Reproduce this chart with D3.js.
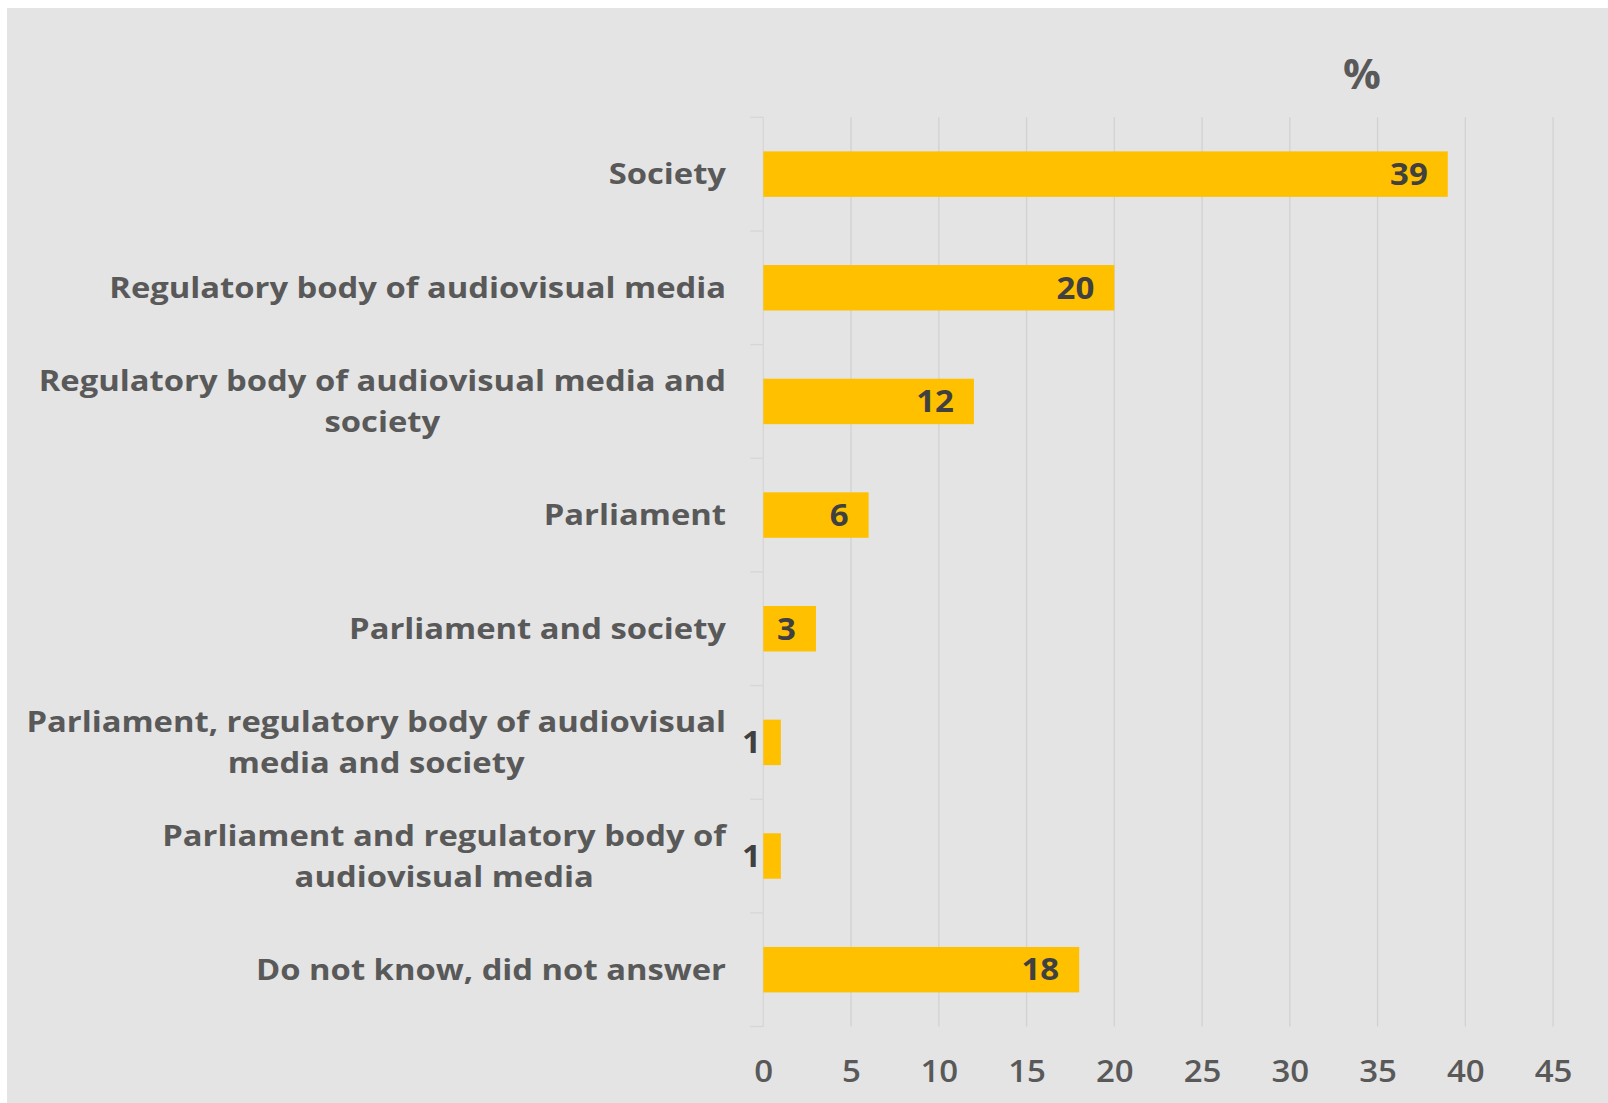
<!DOCTYPE html>
<html>
<head>
<meta charset="utf-8">
<script src="https://cdn.jsdelivr.net/npm/d3@7"></script>
<style>
  html, body { margin: 0; padding: 0; background: #ffffff; }
  svg { display: block; }
</style>
</head>
<body>
<script>
const categories = [
  ["Society"],
  ["Regulatory body of audiovisual media"],
  ["Regulatory body of audiovisual media and", "society"],
  ["Parliament"],
  ["Parliament and society"],
  ["Parliament, regulatory body of audiovisual", "media and society"],
  ["Parliament and regulatory body of", "audiovisual media"],
  ["Do not know, did not answer"]
];
const values = [39, 20, 12, 6, 3, 1, 1, 18];
const tickValues = [0, 5, 10, 15, 20, 25, 30, 35, 40, 45];
const unitLabel = "%";

const W = 1608, H = 1103;
const svg = d3.select("body").append("svg").attr("width", W).attr("height", H);

svg.append("rect").attr("x", 7).attr("y", 8).attr("width", W - 7).attr("height", H - 8).attr("fill", "#e4e4e4");

const x = d3.scaleLinear().domain([0, 45]).range([763.3, 1553.1]);
const y = d3.scaleBand().domain(d3.range(categories.length)).range([117.3, 1026.5]).paddingInner(0.6).paddingOuter(0.3);
const band = d3.scaleBand().domain(d3.range(categories.length)).range([117.3, 1026.5]);

const FONT = "'Open Sans', 'DejaVu Sans', sans-serif";
const SX_CAT = 1.17, SX_NUM = 1.1;

// gridlines
svg.append("g").selectAll("line").data(tickValues.filter(d => d > 0)).join("line")
  .attr("x1", d => x(d)).attr("x2", d => x(d))
  .attr("y1", 117.3).attr("y2", 1026.5)
  .attr("stroke", "#d2d2d2").attr("stroke-width", 1.3);

// category axis line + ticks
svg.append("line").attr("x1", x(0)).attr("x2", x(0)).attr("y1", 117.3).attr("y2", 1026.5)
  .attr("stroke", "#d6d6d6").attr("stroke-width", 1.3);
const tickYs = d3.range(categories.length + 1).map(i => i < categories.length ? band(i) : 1026.5);
svg.append("g").selectAll("line").data(tickYs).join("line")
  .attr("x1", x(0) - 13).attr("x2", x(0))
  .attr("y1", d => d).attr("y2", d => d)
  .attr("stroke", "#d6d6d6").attr("stroke-width", 1.3);

// x axis tick labels
const xAxis = d3.axisBottom(x).tickValues(tickValues).tickSize(0).tickPadding(0);
const gx = svg.append("g").attr("transform", "translate(0,1071)").call(xAxis);
gx.select(".domain").remove();
gx.selectAll("text")
  .attr("dy", "0.35em").attr("y", 0)
  .attr("transform", `scale(${SX_NUM},1)`)
  .attr("font-family", FONT).attr("font-size", 30).attr("font-weight", 600)
  .attr("fill", "#595959");

// bars
svg.append("g").selectAll("rect").data(values).join("rect")
  .attr("x", x(0)).attr("y", (d, i) => y(i))
  .attr("width", d => x(d) - x(0)).attr("height", y.bandwidth())
  .attr("fill", "#ffc000");

// value labels
svg.append("g").selectAll("text").data(values).join("text")
  .attr("transform", (d, i) => `translate(${x(d) - 20},${y(i) + y.bandwidth() / 2}) scale(${SX_NUM},1)`)
  .attr("dy", "0.36em").attr("text-anchor", "end")
  .attr("font-family", FONT).attr("font-size", 30).attr("font-weight", 700)
  .attr("fill", "#404040")
  .text(d => d);

// category labels
const labelRight = 726;
const lineH = 41;
categories.forEach((lines, i) => {
  const cy = band(i) + band.bandwidth() / 2;
  const g = svg.append("g").attr("transform", `translate(${labelRight},${cy}) scale(${SX_CAT},1)`);
  const texts = lines.map((ln, j) => g.append("text")
    .attr("y", (j - (lines.length - 1) / 2) * lineH)
    .attr("dy", "0.36em")
    .attr("font-family", FONT).attr("font-size", 28).attr("font-weight", 700)
    .attr("fill", "#595959")
    .text(ln));
  const maxW = d3.max(texts, t => t.node().getComputedTextLength());
  texts.forEach(t => t.attr("text-anchor", "middle").attr("x", -maxW / 2));
});

// unit label
svg.append("text").attr("transform", "translate(1362,74)").attr("dy", "0.36em")
  .attr("text-anchor", "middle")
  .attr("font-family", FONT).attr("font-size", 42).attr("font-weight", 700)
  .attr("fill", "#595959").text(unitLabel);
</script>
</body>
</html>
